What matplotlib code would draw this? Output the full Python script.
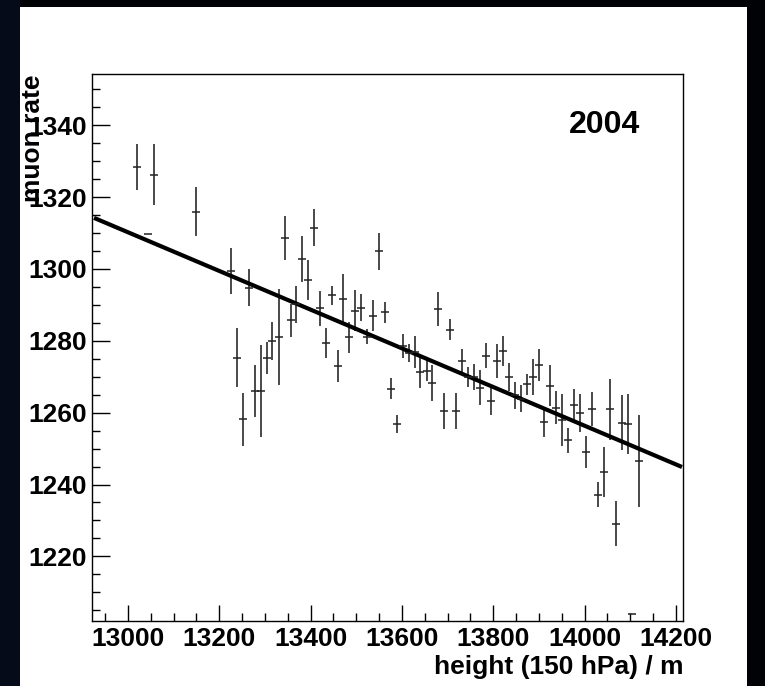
import matplotlib
matplotlib.use("Agg")
import matplotlib.pyplot as plt
from matplotlib.patches import Rectangle
from matplotlib.ticker import MultipleLocator

# muon rate vs. height of the 150 hPa level, 2004
height = [13019, 13045, 13057, 13149, 13225, 13239, 13252, 13265, 13278, 13291,
          13304, 13316, 13330, 13343, 13356, 13368, 13381, 13394, 13407, 13421,
          13434, 13446, 13459, 13472, 13485, 13497, 13511, 13524, 13537, 13550,
          13563, 13576, 13589, 13602, 13615, 13628, 13640, 13654, 13666, 13679,
          13692, 13705, 13718, 13731, 13744, 13757, 13770, 13783, 13796, 13809,
          13821, 13834, 13848, 13860, 13874, 13887, 13900, 13911, 13925, 13938,
          13951, 13964, 13977, 13990, 14003, 14016, 14029, 14042, 14055, 14068,
          14081, 14094, 14103, 14120]
rate = [1328.4, 1309.7, 1326.3, 1315.9, 1299.4, 1275.3, 1258.1, 1294.8, 1266.0, 1266.0,
        1275.2, 1279.9, 1281.0, 1308.7, 1285.7, 1290.2, 1302.9, 1297.0, 1311.5, 1289.0,
        1279.4, 1292.7, 1273.0, 1291.6, 1281.0, 1288.4, 1289.2, 1281.1, 1287.0, 1304.9,
        1287.9, 1266.7, 1256.8, 1278.6, 1276.6, 1276.9, 1271.3, 1271.6, 1268.3, 1288.9,
        1260.5, 1283.1, 1260.5, 1274.3, 1270.0, 1270.0, 1267.0, 1275.9, 1263.2, 1274.3,
        1277.2, 1270.0, 1264.8, 1263.9, 1267.9, 1270.0, 1273.2, 1257.4, 1267.5, 1261.4,
        1257.9, 1252.3, 1262.2, 1259.9, 1249.1, 1261.0, 1237.2, 1243.5, 1261.0, 1229.1,
        1257.2, 1256.8, 1203.9, 1246.5]
rate_err = [6.4, 0.0, 8.5, 6.8, 6.4, 8.2, 7.4, 5.1, 7.2, 12.7,
            4.4, 5.3, 13.4, 6.1, 4.5, 5.1, 6.4, 5.5, 5.1, 4.8,
            4.3, 2.6, 4.5, 7.0, 4.3, 5.7, 3.7, 2.1, 4.3, 5.2,
            3.0, 3.0, 2.6, 3.3, 2.4, 4.5, 4.3, 2.9, 5.1, 4.8,
            5.0, 2.9, 5.0, 3.4, 2.8, 3.6, 5.0, 3.6, 3.9, 4.7,
            4.2, 3.9, 3.7, 3.8, 2.9, 5.0, 4.5, 4.3, 5.7, 4.6,
            7.3, 3.5, 4.5, 5.2, 4.5, 4.8, 3.4, 6.9, 8.5, 6.3,
            7.7, 8.3, 0.0, 12.9]

# linear fit, end points
fit_x = [12930, 14209]
fit_y = [1314.0, 1245.1]

W, H = 765, 686
fig = plt.figure(figsize=(W / 100, H / 100), dpi=100, facecolor="#010205")
fig.patches.append(Rectangle((0, 0), 20 / W, 1, transform=fig.transFigure,
                             facecolor="#060b1a", edgecolor="none", zorder=-11))
fig.patches.append(Rectangle((20 / W, 0), (747 - 20) / W, (H - 7) / H,
                             transform=fig.transFigure, facecolor="white",
                             edgecolor="none", zorder=-10))

ax = fig.add_axes([92.3 / W, (H - 621) / H, 591 / W, (621 - 74.3) / H])
ax.set_facecolor("white")

ax.errorbar(height, rate, yerr=rate_err, fmt="_", color="#222222", ecolor="#3a3a3a",
            elinewidth=1.3, capsize=0, markersize=5.5, markeredgewidth=1.1)
ax.plot(fit_x, fit_y, color="black", linewidth=3)

ax.set_xlim(12922, 14216)
ax.set_ylim(1202, 1354.2)

font = "Liberation Sans"
fs = 19
ax.xaxis.set_major_locator(MultipleLocator(200))
ax.xaxis.set_minor_locator(MultipleLocator(50))
ax.yaxis.set_major_locator(MultipleLocator(20))
ax.yaxis.set_minor_locator(MultipleLocator(5))
ax.tick_params(axis="both", which="both", direction="in", top=False, right=False,
               color="black", width=1)
ax.tick_params(axis="x", which="major", length=11.5, pad=4)
ax.tick_params(axis="x", which="minor", length=5.5)
ax.tick_params(axis="y", which="major", length=12.7, pad=4)
ax.tick_params(axis="y", which="minor", length=6)
for lab in ax.get_xticklabels() + ax.get_yticklabels():
    lab.set_fontfamily(font)
    lab.set_fontweight("bold")
    lab.set_fontsize(fs)

for s in ax.spines.values():
    s.set_color("black")
    s.set_linewidth(1)

ax.set_xlabel("height (150 hPa) / m", loc="right", fontsize=fs,
              fontweight="bold", fontfamily=font)
ax.xaxis.set_label_coords(1.0, -0.062)
ax.set_ylabel("muon rate", loc="top", fontsize=fs,
              fontweight="bold", fontfamily=font)
ax.yaxis.set_label_coords(-0.08, 1.0)

ax.text(0.867, 0.907, "2004", transform=ax.transAxes, ha="center", va="center",
        fontsize=23, fontweight="bold", fontfamily=font)

fig.savefig("out.png", dpi=100, facecolor=fig.get_facecolor())
